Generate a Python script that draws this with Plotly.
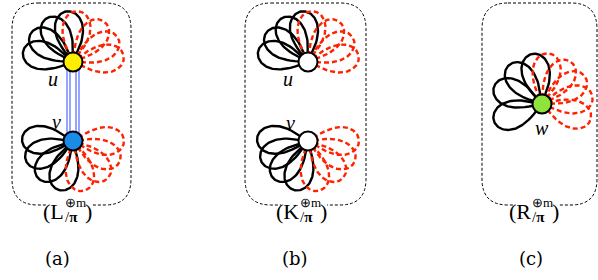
import numpy as np
import plotly.graph_objects as go

# ---- data (diagram description) ----
panel_names = ["(a)", "(b)", "(c)"]
panel_letters = ["L", "K", "R"]
panel_centers = [73, 308, 540]
box_left = [12, 245, 482]
box_right = [131, 366, 597]

node_names = ["u", "v", "u", "v", "w"]
node_x = [73, 73, 308, 308, 542]
node_y = [62, 141, 62, 141, 104]
node_fill = ["#ffee00", "#1a8ce8", "#ffffff", "#ffffff", "#8fe33c"]
node_label_dx = [-20, -17, -20, -18, 0]
node_label_dy = [17, -19, 17, -18, 24]

black_angles = [
    [97, 121, 145, 168],
    [178, 203, 228, 254],
    [97, 121, 145, 168],
    [178, 203, 228, 254],
    [101, 130, 160, 200],
]
red_angles = [
    [84, 52, 28, 6],
    [0, -24, -48, -78],
    [84, 52, 28, 6],
    [0, -24, -48, -78],
    [82, 56, 32, 8, -18],
]
edge_offsets = [-6, -3, 3, 6]   # u–v multi-edge in panel (a)

PETAL_LEN = 51
PETAL_HALF = np.radians(32)

def petal(cx, cy, ang):
    th = np.linspace(-PETAL_HALF, PETAL_HALF, 80)
    r = PETAL_LEN * np.cos(np.pi * th / (2 * PETAL_HALF)).clip(0) ** 0.42
    a = np.radians(ang) + th
    return cx + r * np.cos(a), cy - r * np.sin(a)

fig = go.Figure()

# petals
for i in range(len(node_x)):
    for ang in black_angles[i]:
        px, py = petal(node_x[i], node_y[i], ang)
        fig.add_trace(go.Scatter(x=px, y=py, mode="lines",
                                 line=dict(color="black", width=2.4),
                                 hoverinfo="skip", showlegend=False))
    for ang in red_angles[i]:
        px, py = petal(node_x[i], node_y[i], ang)
        fig.add_trace(go.Scatter(x=px, y=py, mode="lines",
                                 line=dict(color="#ff2200", width=2.4, dash="5px,3px"),
                                 hoverinfo="skip", showlegend=False))

# blue multi-edge
for d in edge_offsets:
    fig.add_trace(go.Scatter(x=[node_x[0] + d, node_x[1] + d], y=[node_y[0], node_y[1]],
                             mode="lines", line=dict(color="#2a4cff", width=1),
                             hoverinfo="skip", showlegend=False))

# nodes
fig.add_trace(go.Scatter(x=node_x, y=node_y, mode="markers",
                         marker=dict(size=19, color=node_fill,
                                     line=dict(color="black", width=2)),
                         hoverinfo="skip", showlegend=False))

shapes = []
R = 26
top, bot = 3, 205
for i in range(3):
    L_, Rt = box_left[i], box_right[i]
    path = (f"M {L_+R},{top} L {Rt-R},{top} Q {Rt},{top} {Rt},{top+R} "
            f"L {Rt},{bot-R} Q {Rt},{bot} {Rt-R},{bot} L {L_+R},{bot} "
            f"Q {L_},{bot} {L_},{bot-R} L {L_},{top+R} Q {L_},{top} {L_+R},{top} Z")
    shapes.append(dict(type="path", path=path, line=dict(color="black", width=1, dash="3px,2px"),
                       layer="below"))
    c = panel_centers[i]
    shapes.append(dict(type="rect", x0=c - 27, x1=c + 19, y0=bot - 4, y1=bot + 4,
                       fillcolor="white", line=dict(width=0), layer="below"))

annotations = []
serif = "Liberation Serif"
for i in range(len(node_x)):
    annotations.append(dict(x=node_x[i] + node_label_dx[i], y=node_y[i] + node_label_dy[i],
                            text=f"<i>{node_names[i]}</i>", showarrow=False,
                            font=dict(family=serif, size=20, color="black"),
                            xanchor="center", yanchor="middle"))
for i in range(3):
    c = panel_centers[i]
    annotations.append(dict(x=c - 8, y=211, text=f"({panel_letters[i]}", showarrow=False,
                            font=dict(family=serif, size=22, color="black"),
                            xanchor="right", yanchor="middle", borderpad=0))
    annotations.append(dict(x=c - 9, y=202, text="⊕m", showarrow=False,
                            font=dict(family=serif, size=13, color="black"),
                            xanchor="left", yanchor="middle", borderpad=0))
    annotations.append(dict(x=c - 9, y=217, text="/<b>π</b>", showarrow=False,
                            font=dict(family=serif, size=15, color="black"),
                            xanchor="left", yanchor="middle", borderpad=0))
    annotations.append(dict(x=c + 11, y=211, text=")", showarrow=False,
                            font=dict(family=serif, size=22, color="black"),
                            xanchor="left", yanchor="middle", borderpad=0))
bottom_x = [57, 295, 531]
for i in range(3):
    annotations.append(dict(x=bottom_x[i], y=258, text=panel_names[i], showarrow=False,
                            font=dict(family="DejaVu Serif", size=18, color="black"),
                            xanchor="center", yanchor="middle"))

fig.update_layout(width=598, height=280, margin=dict(l=0, r=0, t=0, b=0),
                  plot_bgcolor="white", paper_bgcolor="white",
                  shapes=shapes, annotations=annotations,
                  xaxis=dict(range=[0, 598], visible=False, fixedrange=True),
                  yaxis=dict(range=[280, 0], visible=False, fixedrange=True))
fig.write_html("out.html", config={"displayModeBar": False},
               post_script="document.body.style.margin='0';")
